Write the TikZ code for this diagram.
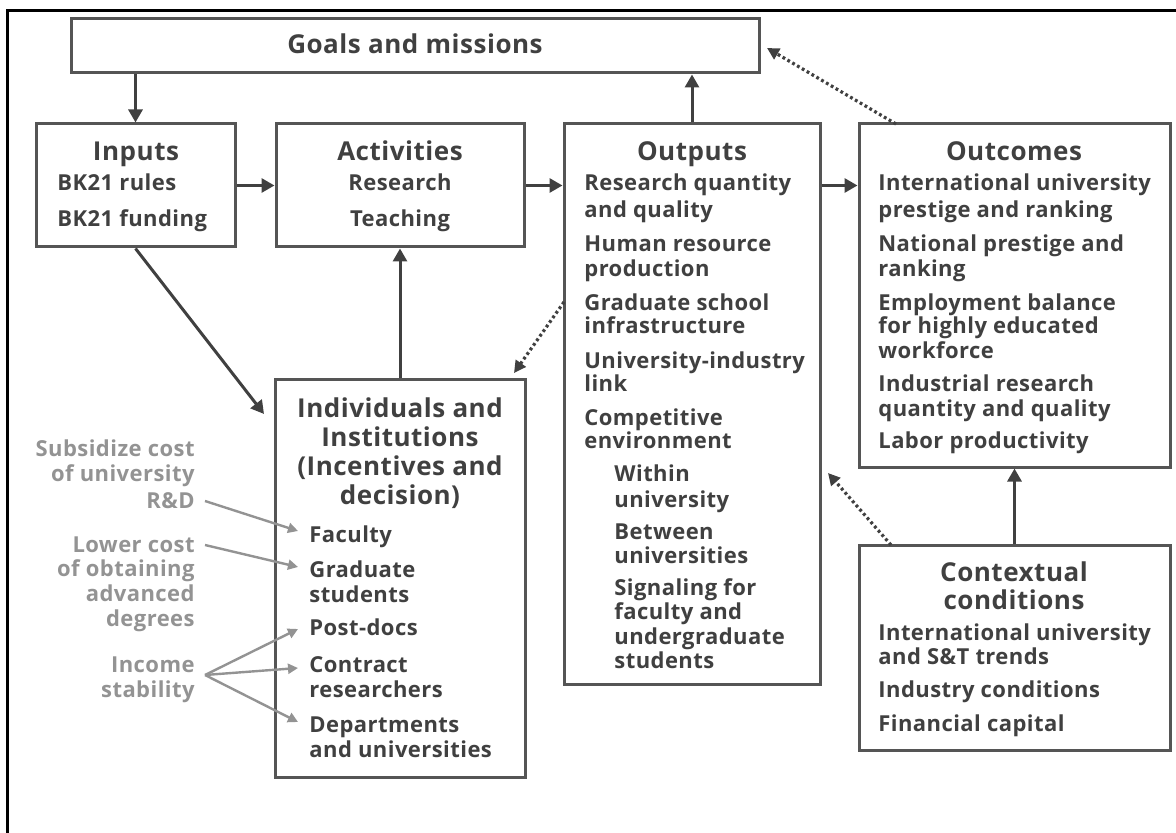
\documentclass[tikz,border=0pt]{standalone}
\usepackage{fontspec}
\setmainfont{Open Sans}[LetterSpace=2.0]
\usetikzlibrary{arrows.meta,calc}
\definecolor{ink}{HTML}{404040}
\definecolor{edge}{HTML}{555555}
\definecolor{soft}{HTML}{939393}
\tikzset{
  box/.style={draw=edge, line width=1.5pt, inner sep=0pt, fill=white},
  ttl/.style={font=\bfseries\fontsize{13}{15}\selectfont, text=ink, inner sep=0pt, anchor=base},
  body/.style={font=\bfseries\fontsize{11}{13}\selectfont, text=ink, inner sep=0pt, anchor=base west},
  bodyc/.style={font=\bfseries\fontsize{11}{13}\selectfont, text=ink, inner sep=0pt, anchor=base},
  side/.style={font=\bfseries\fontsize{11}{13}\selectfont, text=soft, inner sep=0pt, anchor=base east},
  flow/.style={draw=ink, line width=1.5pt, -{Triangle[length=6.5pt,width=7pt]}},
  loop/.style={draw=ink, line width=1.6pt, dash pattern=on 1.4pt off 1.4pt, -{Triangle[length=6pt,width=6pt]}},
  hint/.style={draw=soft, line width=1.2pt, -{Triangle[length=5pt,width=5pt]}},
}
\begin{document}
\begin{tikzpicture}[x=0.5pt,y=-0.5pt]
\useasboundingbox (0,0) rectangle (1176,833);
% page frame (top and left rules)
\draw[line width=1.5pt, black] (7,833) -- (7,11) -- (1176,11);

% boxes
\node[box, minimum width=344pt, minimum height=27pt] (goals) at (415,46) {};
\node[box, minimum width=99.5pt, minimum height=61.5pt] (inputs) at (135.5,185.5) {};
\node[box, minimum width=124pt, minimum height=61.5pt] (acts) at (400,185.5) {};
\node[box, minimum width=128pt, minimum height=280pt] (outs) at (692,404) {};
\node[box, minimum width=155.5pt, minimum height=171.5pt] (outc) at (1014.5,295.5) {};
\node[box, minimum width=125pt, minimum height=198.5pt] (indiv) at (400,578.5) {};
\node[box, minimum width=155.5pt, minimum height=102.5pt] (ctx) at (1014.5,647.5) {};

% titles
\node[ttl] (tgoals) at (415,54) {Goals and missions};
\node[ttl] (tin) at (136,161) {Inputs};
\node[ttl] (tact) at (400,161) {Activities};
\node[ttl] (tout) at (692,161) {Outputs};
\node[ttl] (toc) at (1014,161) {Outcomes};
\foreach \t/\y [count=\i] in {{Individuals and}/408, {Institutions}/437, {(Incentives and}/466, {decision)}/495}
  \node[ttl] (tind\i) at (400,\y+9) {\t};
\foreach \t/\y [count=\i] in {{Contextual}/572, {conditions}/600}
  \node[ttl] (tctx\i) at (1014,\y+9) {\t};

% inputs and activities
\node[body] (in1) at (57,191) {BK21 rules};
\node[body] (in2) at (57,227) {BK21 funding};
\node[bodyc] (ac1) at (400,191) {Research};
\node[bodyc] (ac2) at (400,227) {Teaching};

% outputs
\foreach \t/\y [count=\i] in {{Research quantity}/184, {and quality}/211, {Human resource}/245, {production}/270,
    {Graduate school}/304, {infrastructure}/327, {University-industry}/362, {link}/385, {Competitive}/418, {environment}/442}
  \node[body] (ol\i) at (584,\y+7) {\t};
\foreach \t/\y [count=\i] in {{Within}/474, {university}/500, {Between}/532, {universities}/556,
    {Signaling for}/588, {faculty and}/612, {undergraduate}/637, {students}/661}
  \node[body] (os\i) at (614,\y+7) {\t};

% outcomes
\foreach \t/\y [count=\i] in {{International university}/184, {prestige and ranking}/211, {National prestige and}/245,
    {ranking}/270, {Employment balance}/304, {for highly educated}/327, {workforce}/352,
    {Industrial research}/385, {quantity and quality}/409, {Labor productivity}/442}
  \node[body] (ocl\i) at (878,\y+7) {\t};

% individuals and institutions
\foreach \t/\y [count=\i] in {{Faculty}/535, {Graduate}/570, {students}/595, {Post-docs}/628, {Contract}/665,
    {researchers}/690, {Departments}/725, {and universities}/750}
  \node[body] (il\i) at (309,\y+7) {\t};

% contextual conditions
\foreach \t/\y [count=\i] in {{International university}/633, {and S\&T trends}/657, {Industry conditions}/690, {Financial capital}/724}
  \node[body] (cl\i) at (878,\y+7) {\t};

% policy levers
\foreach \t/\y [count=\i] in {{Subsidize cost}/449, {of university}/474, {R\&D}/501, {Lower cost}/545, {of obtaining}/569,
    {advanced}/594, {degrees}/619, {Income}/665, {stability}/690}
  \node[side] (sl\i) at (195,\y+7) {\t};

% main flow
\draw[flow] (goals.south -| inputs.north) -- (inputs.north);
\draw[flow] (inputs.east) -- (acts.west);
\draw[flow] (acts.east) -- (outs.west |- acts.east);
\draw[flow] (outs.east |- acts.east) -- (outc.west |- acts.east);
\draw[flow] (outs.north) -- (outs.north |- goals.south);
\draw[flow] (indiv.north) -- (acts.south);
\draw[flow] (ctx.north) -- (outc.south);
\coordinate (inTip) at (264,414);
\draw[flow] (inputs.south) -- (inTip);

% feedback loops
\coordinate (ocFoot) at (896,124);
\coordinate (goTip) at (767,48);
\draw[loop] (ocFoot) -- (goTip);
\coordinate (ouFoot) at (564,302);
\coordinate (inTop) at (514,373);
\draw[loop] (ouFoot) -- (inTop);
\coordinate (cxFoot) at (891,545);
\coordinate (ouTip) at (828,473);
\draw[loop] (cxFoot) -- (ouTip);

% lever arrows
\coordinate (s1) at (205,501);
\coordinate (s2) at (205,545);
\coordinate (s3) at (205,675);
\coordinate (f1) at (298,531);
\coordinate (f2) at (298,567);
\coordinate (f3) at (298,629);
\coordinate (f4) at (298,668);
\coordinate (f5) at (298,722);
\draw[hint] (s1) -- (f1);
\draw[hint] (s2) -- (f2);
\draw[hint] (s3) -- (f3);
\draw[hint] (s3) -- (f4);
\draw[hint] (s3) -- (f5);
\end{tikzpicture}
\end{document}
